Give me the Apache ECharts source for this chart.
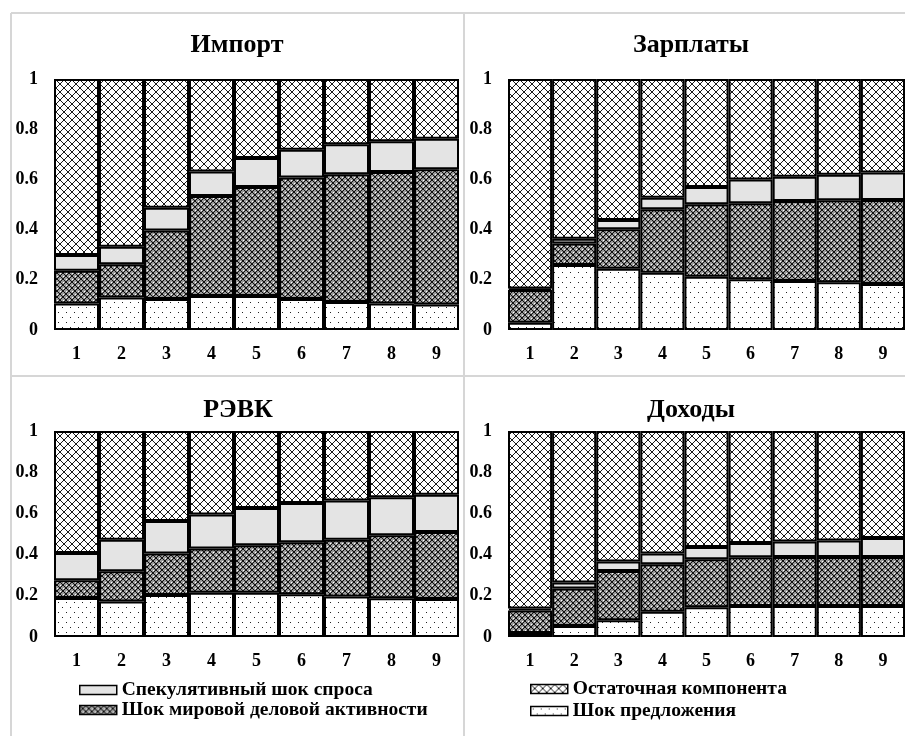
<!DOCTYPE html>
<html>
<head>
<meta charset="utf-8">
<script src="https://cdn.jsdelivr.net/npm/echarts@6/dist/echarts.min.js"></script>
<style>
html,body{margin:0;padding:0;background:#fff;}
#c{width:905px;height:736px;}
</style>
</head>
<body>
<div id="c"></div>
<script>
// ---- data ----
const categories = ['1','2','3','4','5','6','7','8','9'];
const panelTitles = ['Импорт', 'Зарплаты', 'РЭВК', 'Доходы'];
const seriesNames = ['Шок предложения', 'Шок мировой деловой активности', 'Спекулятивный шок спроса', 'Остаточная компонента'];
const yTicks = [0, 0.2, 0.4, 0.6, 0.8, 1];

// Импорт
const importSupply   = [0.106,0.129,0.124,0.135,0.135,0.124,0.112,0.106,0.102];
const importGlobal   = [0.130,0.133,0.272,0.399,0.435,0.484,0.509,0.523,0.538];
const importSpec     = [0.063,0.070,0.091,0.097,0.115,0.110,0.119,0.123,0.122];
const importResidual = [0.701,0.668,0.513,0.369,0.315,0.282,0.260,0.248,0.238];
// Зарплаты
const wagesSupply   = [0.029,0.259,0.244,0.228,0.212,0.202,0.195,0.190,0.183];
const wagesGlobal   = [0.130,0.086,0.157,0.253,0.289,0.303,0.319,0.327,0.335];
const wagesSpec     = [0.006,0.019,0.037,0.046,0.069,0.095,0.097,0.102,0.109];
const wagesResidual = [0.835,0.636,0.562,0.473,0.430,0.400,0.389,0.381,0.373];
// РЭВК
const reerSupply   = [0.189,0.172,0.204,0.215,0.215,0.207,0.197,0.188,0.184];
const reerGlobal   = [0.086,0.147,0.201,0.215,0.230,0.253,0.275,0.306,0.326];
const reerSpec     = [0.133,0.153,0.158,0.165,0.181,0.190,0.191,0.184,0.181];
const reerResidual = [0.592,0.528,0.437,0.405,0.374,0.350,0.337,0.322,0.309];
// Доходы
const incomeSupply   = [0.019,0.053,0.081,0.123,0.144,0.150,0.150,0.150,0.150];
const incomeGlobal   = [0.110,0.182,0.239,0.230,0.233,0.237,0.238,0.238,0.238];
const incomeSpec     = [0.009,0.029,0.046,0.052,0.060,0.069,0.076,0.081,0.093];
const incomeResidual = [0.862,0.736,0.634,0.595,0.563,0.544,0.536,0.531,0.519];

const panelData = [
  [importSupply, importGlobal, importSpec, importResidual],
  [wagesSupply, wagesGlobal, wagesSpec, wagesResidual],
  [reerSupply, reerGlobal, reerSpec, reerResidual],
  [incomeSupply, incomeGlobal, incomeSpec, incomeResidual]
];

// ---- patterns ----
function tile(w, h, bg, draw) {
  const c = document.createElement('canvas');
  c.width = w; c.height = h;
  const g = c.getContext('2d');
  g.fillStyle = bg; g.fillRect(0, 0, w, h);
  draw(g);
  return c;
}
const supplyTile = tile(8, 10, '#ffffff', g => {
  g.fillStyle = '#222';
  g.fillRect(2, 2, 1, 1);
  g.fillRect(6, 7, 1, 1);
});
const globalTile = tile(6, 6, '#9a9a9a', g => {
  g.fillStyle = '#111';
  for (let i = 0; i < 6; i++) { g.fillRect(i, i, 1, 1); g.fillRect(5 - i, i, 1, 1); }
  g.fillStyle = '#fff';
  g.fillRect(0, 3, 1, 1); g.fillRect(3, 0, 1, 1);
});
const residualTile = tile(8, 8, '#ffffff', g => {
  g.fillStyle = '#1a1a1a';
  for (let i = 0; i < 8; i++) { g.fillRect(i, i, 1, 1); g.fillRect(7 - i, i, 1, 1); }
});
const fills = [
  { image: supplyTile, repeat: 'repeat' },
  { image: globalTile, repeat: 'repeat' },
  '#e4e4e4',
  { image: residualTile, repeat: 'repeat' }
];

// ---- layout ----
const FONT = 'Liberation Serif';
const grids = [
  { left: 54, top: 79, width: 405, height: 251 },
  { left: 508, top: 79, width: 405, height: 251 },
  { left: 54, top: 431, width: 405, height: 206 },
  { left: 508, top: 431, width: 405, height: 206 }
];
const titleCenters = [[237, 32], [691, 32], [238, 397], [691, 397]];

const legendText = { fontFamily: FONT, fontWeight: 'bold', fontSize: 19.5, color: '#000', lineHeight: 20 };
const option = {
  animation: false,
  backgroundColor: '#fff',
  title: panelTitles.map((t, i) => ({
    text: t, left: titleCenters[i][0], top: titleCenters[i][1], textAlign: 'center', padding: 0,
    textStyle: { fontFamily: FONT, fontWeight: 'bold', fontSize: 26, color: '#000' }
  })),
  grid: grids,
  xAxis: grids.map((g, i) => ({
    type: 'category', gridIndex: i, data: categories,
    axisLine: { show: false }, axisTick: { show: false },
    axisLabel: { margin: 15, fontFamily: FONT, fontWeight: 'bold', fontSize: 18, color: '#000' }
  })),
  yAxis: grids.map((g, i) => ({
    type: 'value', gridIndex: i, min: 0, max: 1, interval: 0.2,
    splitLine: { show: false }, axisLine: { show: false }, axisTick: { show: false },
    axisLabel: { margin: 16, fontFamily: FONT, fontWeight: 'bold', fontSize: 18, color: '#000' }
  })),
  legend: [
    {
      orient: 'vertical', left: 79, top: 680, padding: 0, icon: 'rect',
      itemWidth: 37, itemHeight: 9, itemGap: 0,
      data: [seriesNames[2], seriesNames[1]],
      itemStyle: { borderColor: '#000', borderWidth: 1.5 },
      textStyle: legendText
    },
    {
      orient: 'vertical', left: 530, top: 678, padding: 0, icon: 'rect',
      itemWidth: 37, itemHeight: 9, itemGap: 0,
      data: [seriesNames[3], seriesNames[0]],
      itemStyle: { borderColor: '#000', borderWidth: 1.5 },
      textStyle: Object.assign({}, legendText, { lineHeight: 22 })
    }
  ],
  graphic: [
    { type: 'line', silent: true, shape: { x1: 11, y1: 13, x2: 905, y2: 13 }, style: { stroke: '#d6d6d6', lineWidth: 2 } },
    { type: 'line', silent: true, shape: { x1: 11, y1: 13, x2: 11, y2: 736 }, style: { stroke: '#d6d6d6', lineWidth: 2 } },
    { type: 'line', silent: true, shape: { x1: 464, y1: 13, x2: 464, y2: 736 }, style: { stroke: '#d6d6d6', lineWidth: 2 } },
    { type: 'line', silent: true, shape: { x1: 11, y1: 376, x2: 905, y2: 376 }, style: { stroke: '#d6d6d6', lineWidth: 2 } }
  ],
  series: []
};

panelData.forEach((arrs, p) => {
  arrs.forEach((vals, k) => {
    option.series.push({
      name: seriesNames[k], type: 'bar', stack: 'p' + p,
      xAxisIndex: p, yAxisIndex: p, data: vals,
      barCategoryGap: 0,
      itemStyle: { color: fills[k], borderColor: '#000', borderWidth: 2 },
      emphasis: { disabled: true }
    });
  });
});

const chart = echarts.init(document.getElementById('c'), null, { renderer: 'canvas' });
chart.setOption(option);
</script>
</body>
</html>
